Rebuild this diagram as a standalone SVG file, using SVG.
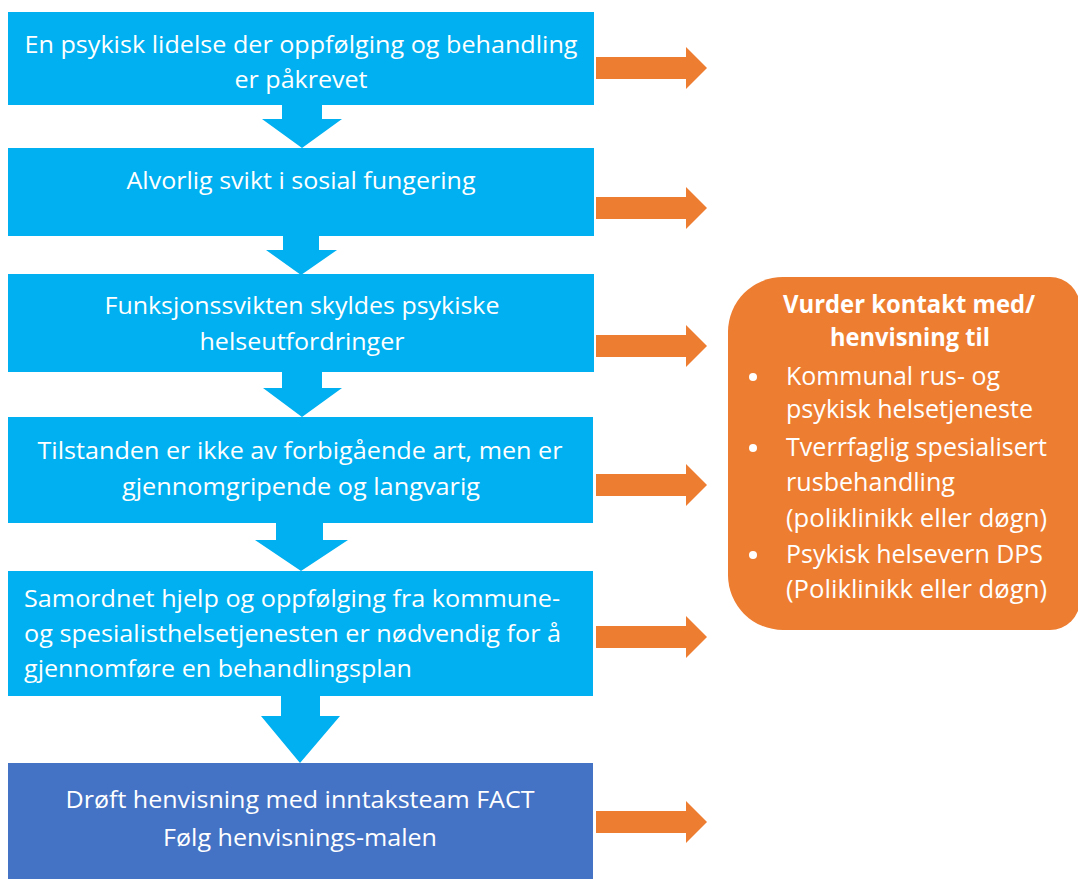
<svg xmlns="http://www.w3.org/2000/svg" width="1078" height="879" viewBox="0 0 1078 879">
<style>
.box{fill:#00B0F0}
.dark{fill:#4472C4}
.down{fill:#00B0F0}
.right{fill:#ED7D31}
.side{fill:#ED7D31}
text{font-family:"Open Sans","Noto Sans","Liberation Sans",sans-serif;fill:#ffffff;font-size:24px}
.c{text-anchor:middle}
.o{font-size:25px}
.b{font-weight:bold}
</style>
<rect width="1078" height="879" fill="#ffffff"/>
<g id="connectors">
<polygon class="down" points="282,105 322,105 322,119 342,119 302,148 262,119 282,119"/>
<polygon class="down" points="283,236 319,236 319,250 337,250 301,275 266,250 283,250"/>
<polygon class="down" points="282,372 322,372 322,388 342,388 302,417 263,388 282,388"/>
<polygon class="down" points="276,523 323,523 323,540 348,540 301,571 255,540 276,540"/>
<polygon class="down" points="281,696 320,696 320,716 340,716 300,763 261,716 281,716"/>
<g id="out-arrows">
<polygon class="right" points="596,57 686,57 686,47 707,68 686,89 686,79 596,79"/>
<polygon class="right" points="596,197 686,197 686,187 707,208 686,229 686,219 596,219"/>
<polygon class="right" points="596,335 686,335 686,325 707,346 686,367 686,357 596,357"/>
<polygon class="right" points="596,474 686,474 686,464 707,485 686,506 686,496 596,496"/>
<polygon class="right" points="596,626 686,626 686,616 707,637 686,658 686,648 596,648"/>
<polygon class="right" points="596,811 686,811 686,801 707,822 686,843 686,833 596,833"/>
</g>
</g>
<g id="node1">
<rect class="box" x="8" y="12" width="586" height="93"/>
<text class="c" x="301" y="53" textLength="553" lengthAdjust="spacingAndGlyphs">En psykisk lidelse der oppfølging og behandling</text>
<text class="c" x="301" y="88" textLength="133" lengthAdjust="spacingAndGlyphs">er påkrevet</text>
</g>
<g id="node2">
<rect class="box" x="8" y="148" width="586" height="88"/>
<text class="c" x="301" y="189" textLength="349" lengthAdjust="spacingAndGlyphs">Alvorlig svikt i sosial fungering</text>
</g>
<g id="node3">
<rect class="box" x="8" y="274" width="586" height="98"/>
<text class="c" x="302" y="314" textLength="395" lengthAdjust="spacingAndGlyphs">Funksjonssvikten skyldes psykiske</text>
<text class="c" x="302" y="350" textLength="205" lengthAdjust="spacingAndGlyphs">helseutfordringer</text>
</g>
<g id="node4">
<rect class="box" x="8" y="417" width="585" height="106"/>
<text class="c" x="300" y="459" textLength="525" lengthAdjust="spacingAndGlyphs">Tilstanden er ikke av forbigående art, men er</text>
<text class="c" x="301" y="495" textLength="358" lengthAdjust="spacingAndGlyphs">gjennomgripende og langvarig</text>
</g>
<g id="node5">
<rect class="box" x="8" y="571" width="585" height="125"/>
<text x="24" y="607" textLength="536" lengthAdjust="spacingAndGlyphs">Samordnet hjelp og oppfølging fra kommune-</text>
<text x="24" y="642" textLength="537" lengthAdjust="spacingAndGlyphs">og spesialisthelsetjenesten er nødvendig for å</text>
<text x="24" y="677" textLength="388" lengthAdjust="spacingAndGlyphs">gjennomføre en behandlingsplan</text>
</g>
<g id="node6">
<rect class="dark" x="8" y="763" width="585" height="116"/>
<text class="c" x="300" y="808" textLength="469" lengthAdjust="spacingAndGlyphs">Drøft henvisning med inntaksteam FACT</text>
<text class="c" x="300" y="846" textLength="274" lengthAdjust="spacingAndGlyphs">Følg henvisnings-malen</text>
</g>
<g id="node7">
<path class="side" d="M783,277 L1050,277 A30,30 0 0 1 1080,307 L1080,600 A30,30 0 0 1 1050,630 L783,630 A55,55 0 0 1 728,575 L728,332 A55,55 0 0 1 783,277 Z"/>
<text class="c o b" x="909" y="313" textLength="252" lengthAdjust="spacingAndGlyphs">Vurder kontakt med/</text>
<text class="c o b" x="910" y="346" textLength="160" lengthAdjust="spacingAndGlyphs">henvisning til</text>
<circle cx="753" cy="377" r="4" fill="#ffffff"/>
<circle cx="753" cy="448" r="4" fill="#ffffff"/>
<circle cx="753" cy="555" r="4" fill="#ffffff"/>
<text class="o" x="786" y="385" textLength="214" lengthAdjust="spacingAndGlyphs">Kommunal rus- og</text>
<text class="o" x="786" y="418" textLength="247" lengthAdjust="spacingAndGlyphs">psykisk helsetjeneste</text>
<text class="o" x="786" y="456" textLength="261" lengthAdjust="spacingAndGlyphs">Tverrfaglig spesialisert</text>
<text class="o" x="786" y="491" textLength="169" lengthAdjust="spacingAndGlyphs">rusbehandling</text>
<text class="o" x="786" y="527" textLength="261" lengthAdjust="spacingAndGlyphs">(poliklinikk eller døgn)</text>
<text class="o" x="786" y="563" textLength="257" lengthAdjust="spacingAndGlyphs">Psykisk helsevern DPS</text>
<text class="o" x="786" y="598" textLength="261" lengthAdjust="spacingAndGlyphs">(Poliklinikk eller døgn)</text>
</g>
</svg>
